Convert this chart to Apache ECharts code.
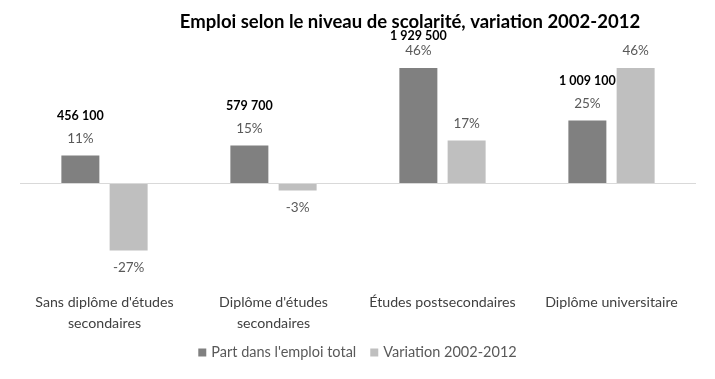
<!DOCTYPE html>
<html>
<head>
<meta charset="utf-8">
<script src="https://cdn.jsdelivr.net/npm/echarts@6/dist/echarts.min.js"></script>
<style>html,body{margin:0;padding:0;background:#fff}#c{width:715px;height:379px}</style>
</head>
<body>
<div id="c"></div>
<script>
const categories = ["Sans diplôme d'études\nsecondaires", "Diplôme d'études\nsecondaires", "Études postsecondaires", "Diplôme universitaire"];
const partValues = [11, 15, 46, 25];
const variationValues = [-27, -3, 17, 46];
const employmentCounts = ["456 100", "579 700", "1 929 500", "1 009 100"];
const seriesNames = ["Part dans l'emploi total", "Variation 2002-2012"];

const FONT = "Lato, 'Open Sans', sans-serif";
const chart = echarts.init(document.getElementById('c'));

const partData = partValues.map((v, i) => ({
  value: v,
  label: {
    formatter: '{b|' + employmentCounts[i] + '}\n{p|' + v + '%}',
    rich: {
      b: { fontWeight: 'bold', color: '#000', fontSize: 12.5, fontFamily: FONT, lineHeight: i === 2 ? 14 : 30 },
      p: { color: '#595959', fontSize: 13.5, fontFamily: FONT, lineHeight: 16 }
    }
  }
}));
const varData = variationValues.map(v => ({
  value: v,
  label: { position: v < 0 ? 'bottom' : 'top', distance: 10 }
}));

chart.setOption({
  animation: false,
  title: {
    text: 'Emploi selon le niveau de scolarité, variation 2002-2012',
    left: 405, top: 8, textAlign: 'center',
    textStyle: { fontFamily: FONT, fontWeight: 'bold', fontSize: 18.5, color: '#000' }
  },
  legend: {
    bottom: 14, left: 'center',
    itemWidth: 8, itemHeight: 8, itemGap: 14,
    icon: 'rect',
    textStyle: { fontFamily: FONT, fontSize: 14.5, color: '#595959' },
    data: seriesNames
  },
  grid: { left: 20, right: 19, top: 58, bottom: 121, containLabel: false },
  xAxis: {
    type: 'category', data: categories,
    axisLine: { show: false }, axisTick: { show: false },
    axisLabel: { margin: 34, fontFamily: FONT, fontSize: 14.2, color: '#404040', lineHeight: 21, interval: 0 }
  },
  yAxis: { type: 'value', min: -30, max: 50, show: false, splitLine: { show: false } },
  series: [
    {
      name: seriesNames[0], type: 'bar', data: partData,
      barWidth: 38, barGap: '27%',
      itemStyle: { color: '#808080' },
      label: { show: true, position: 'top', distance: 9 },
      markLine: {
        silent: true, symbol: 'none', label: { show: false },
        lineStyle: { color: '#d9d9d9', type: 'solid', width: 1 },
        data: [{ yAxis: 0 }]
      }
    },
    {
      name: seriesNames[1], type: 'bar', data: varData,
      barWidth: 38,
      itemStyle: { color: '#bfbfbf' },
      label: { show: true, formatter: p => p.value + '%', fontFamily: FONT, fontSize: 13.5, color: '#595959' }
    }
  ]
});
</script>
</body>
</html>
